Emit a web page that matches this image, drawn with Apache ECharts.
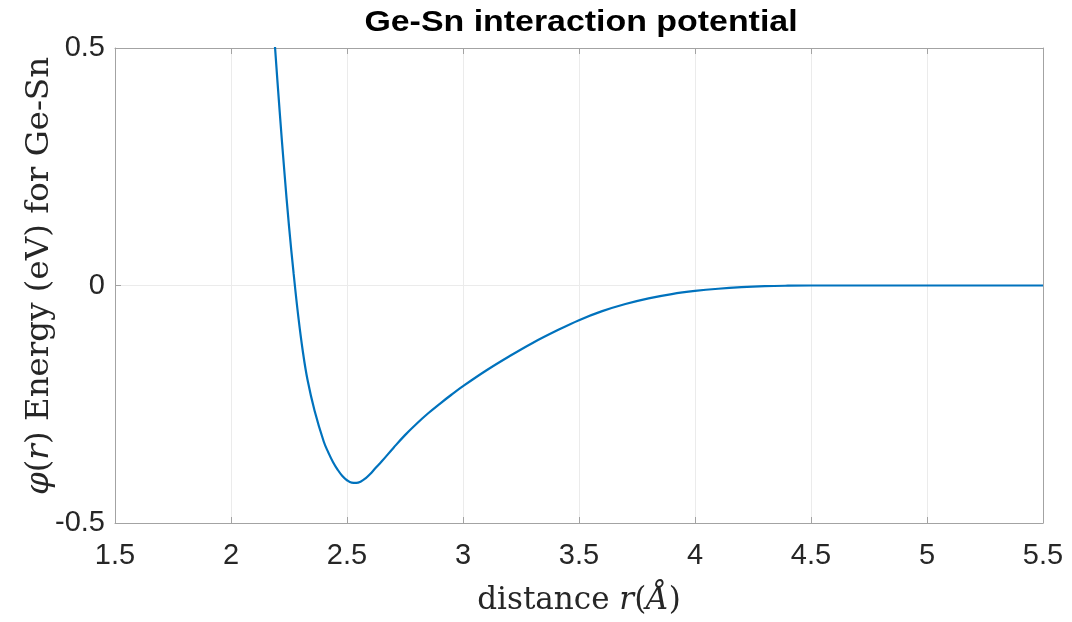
<!DOCTYPE html>
<html>
<head>
<meta charset="utf-8">
<script src="https://cdn.jsdelivr.net/npm/echarts@6/dist/echarts.min.js"></script>
<style>
  html, body { margin: 0; padding: 0; background: #fff; }
  #chart { width: 1072px; height: 622px; }
</style>
</head>
<body>
<div id="chart"></div>
<script>
// Ge-Sn pair potential phi(r), distance in angstrom, energy in eV
const distance = [
  2.17, 2.19, 2.21, 2.23, 2.25, 2.27, 2.29, 2.31, 2.33, 2.36, 2.40, 2.42,
  2.44, 2.46, 2.48, 2.50, 2.52, 2.54, 2.56, 2.58, 2.60, 2.62, 2.65, 2.70,
  2.75, 2.80, 2.85, 2.90, 2.95, 3.00, 3.10, 3.20, 3.30, 3.40, 3.50, 3.60,
  3.70, 3.80, 3.90, 4.00, 4.10, 4.20, 4.30, 4.40, 4.50, 5.00, 5.50
];
const energy = [
  0.64, 0.50, 0.365, 0.24, 0.125, 0.025, -0.065, -0.140, -0.199, -0.263, -0.329, -0.352,
  -0.372, -0.388, -0.401, -0.410, -0.415, -0.4155, -0.4125, -0.406, -0.397, -0.386, -0.370, -0.342,
  -0.315, -0.291, -0.269, -0.249, -0.230, -0.212, -0.179, -0.149, -0.121, -0.096, -0.073, -0.054,
  -0.039, -0.027, -0.018, -0.0115, -0.0068, -0.0035, -0.0014, -0.0004, 0, 0, 0
];
const xTicks = { min: 1.5, max: 5.5, step: 0.5 };
const yTicks = { min: -0.5, max: 0.5, step: 0.5 };
const titleText = 'Ge-Sn interaction potential';
const yTitle = '{i|φ}{n|(}{i|r}{n|) Energy (eV) for Ge-Sn}';
const xTitle = '{n|distance }{i|r}{n|(}{i|Å}{n|)}';

const points = distance.map((r, i) => [r, energy[i]]);

const axisColor = '#a3a3a3';
const gridColor = '#ebebeb';
const labelColor = '#262626';
const tickFont = 'Liberation Sans, Arial, sans-serif';
const texFont = 'DejaVu Serif, Liberation Serif, serif';

function frameAxis(extra) {
  return Object.assign({
    type: 'value',
    axisLine: { show: true, onZero: false, lineStyle: { color: axisColor, width: 1 } },
    axisTick: { show: true, inside: true, length: 6, lineStyle: { color: axisColor } },
    splitLine: { show: false },
    axisLabel: { show: false }
  }, extra);
}

function texRich(size) {
  return {
    n: { fontFamily: texFont, fontSize: size, fill: labelColor, color: labelColor },
    i: { fontFamily: texFont, fontStyle: 'italic', fontSize: size, fill: labelColor, color: labelColor }
  };
}

const chart = echarts.init(document.getElementById('chart'), null, { renderer: 'canvas' });
chart.setOption({
  backgroundColor: '#ffffff',
  animation: false,
  graphic: [{
    type: 'text',
    x: 581, y: 8,
    scaleX: 1.13,
    style: {
      text: titleText,
      align: 'center', verticalAlign: 'top',
      font: 'bold 30px "Liberation Sans", Arial, sans-serif',
      fill: '#000'
    }
  }, {
    // vertical axis title, drawn rotated beside the plot
    type: 'text',
    x: 40, y: 276,
    rotation: Math.PI / 2,
    style: {
      text: yTitle,
      align: 'center', verticalAlign: 'middle',
      fill: labelColor,
      rich: texRich(32.5)
    }
  }],
  grid: { left: 115, right: 29, top: 48, bottom: 99, containLabel: false },
  xAxis: [
    frameAxis({
      position: 'bottom',
      min: xTicks.min, max: xTicks.max, interval: xTicks.step,
      splitLine: { show: true, lineStyle: { color: gridColor, width: 1 } },
      axisLabel: { show: true, color: labelColor, fontFamily: tickFont, fontSize: 29, margin: 18 },
      name: xTitle,
      nameLocation: 'middle', nameGap: 62,
      nameTextStyle: { rich: texRich(31) }
    }),
    frameAxis({ position: 'top', min: xTicks.min, max: xTicks.max, interval: xTicks.step })
  ],
  yAxis: [
    frameAxis({
      position: 'left',
      min: yTicks.min, max: yTicks.max, interval: yTicks.step,
      splitLine: { show: true, lineStyle: { color: gridColor, width: 1 } },
      axisLabel: { show: true, color: labelColor, fontFamily: tickFont, fontSize: 29, margin: 10 }
    }),
    frameAxis({ position: 'right', min: yTicks.min, max: yTicks.max, interval: yTicks.step })
  ],
  series: [{
    type: 'line',
    data: points,
    xAxisIndex: 0, yAxisIndex: 0,
    showSymbol: false,
    smooth: 0.4,
    clip: true,
    lineStyle: { color: '#0072BD', width: 2.2 },
    itemStyle: { color: '#0072BD' }
  }]
});
</script>
</body>
</html>
